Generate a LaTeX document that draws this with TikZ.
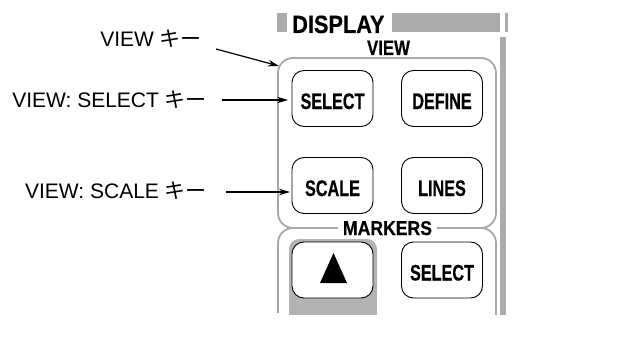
\documentclass[tikz,border=0pt]{standalone}
\usepackage{fontspec}
\setmainfont{Liberation Sans}
\newfontfamily\jp{Noto Sans CJK JP}
\newfontfamily\btnfont{Liberation Sans}[FakeStretch=0.72,FakeBold=0.6]
\newfontfamily\headfont{Liberation Sans}[FakeBold=0.4]
\usetikzlibrary{arrows.meta}
\definecolor{boxgray}{HTML}{A8A8A8}
\definecolor{bargray}{HTML}{ABABAB}
\definecolor{shadegray}{HTML}{B3B3B3}
\tikzset{
  x=1pt, y=-1pt,
  lbl/.style={anchor=base east, inner sep=0pt, font=\fontsize{21}{21}\selectfont},
  arr/.style={line width=1.2pt, -{Stealth[length=11pt,width=6.5pt]}},
  grp/.style={draw=boxgray, line width=1.8pt},
  btn/.style={draw=black, line width=0.9pt, fill=white, rounded corners=12pt,
    minimum width=81pt, minimum height=56pt, inner sep=0pt,
    text height=21pt, text depth=0pt,
    font=\btnfont\bfseries\fontsize{22.5}{22.5}\selectfont},
  head/.style={inner sep=0pt, font=\headfont\bfseries}
}
\begin{document}
\begin{tikzpicture}
\useasboundingbox (0,0) rectangle (624,345);
% header bar
\fill[bargray] (277,13) rectangle (287,32);
\fill[bargray] (392,13) rectangle (500,32);
\fill[bargray] (505,13) rectangle (507.5,32);
\node[head, anchor=base west] (disp) at (292,33)
  {\scalebox{0.87}[1]{\fontsize{25}{25}\selectfont DISPLAY}};
% right vertical bar
\fill[bargray] (500,37) rectangle (506,315);
% VIEW group
\draw[grp, rounded corners=15pt] (278,58) rectangle (496,228);
\node[head, anchor=base] (view) at (388.5,55)
  {\scalebox{0.8}[1]{\fontsize{21}{21}\selectfont VIEW}};
% MARKERS group
\draw[grp, rounded corners=15pt] (278,313) -- (278,228) -- (496,228) -- (496,315);
\node[head, anchor=base, fill=white, inner xsep=5pt] (mk) at (387.5,235)
  {\scalebox{0.88}[1]{\fontsize{20}{20}\selectfont MARKERS}};
% shaded area behind marker button
\fill[shadegray, rounded corners=10pt] (289,239) rectangle (377,300);
\fill[shadegray] (289,265) rectangle (377,315);
% buttons
\node[btn] (sel) at (332.5,98.5) {SELECT};
\node[btn] (def) at (442,98.5) {DEFINE};
\node[btn] (scl) at (332.5,185.5) {SCALE};
\node[btn] (lin) at (442,185.5) {LINES};
\node[btn] (tri) at (332.5,270) {};
\node[btn] (msel) at (442,270) {SELECT};
\fill[black] (320,283) -- (347,283) -- (333.5,253) -- cycle;
% labels
\node[lbl] (lv) at (202,47) {VIEW {\jp キー}};
\node[lbl] (ls) at (207,107) {VIEW: SELECT {\jp キー}};
\node[lbl] (lc) at (207,198) {VIEW: SCALE {\jp キー}};
\coordinate (tv) at (279,66);
\coordinate (ts) at (288,100);
\coordinate (tc) at (290,192);
\draw[arr] ([shift={(14,2)}]lv.base east) -- (tv);
\draw[arr] ([shift={(15,-7)}]ls.base east) -- (ts);
\draw[arr] ([shift={(19,-6)}]lc.base east) -- (tc);
\end{tikzpicture}
\end{document}
